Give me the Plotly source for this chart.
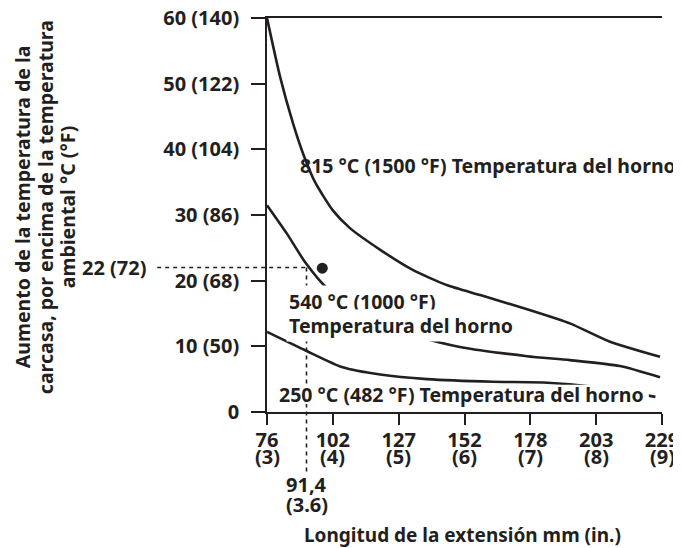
import plotly.graph_objects as go

# ---- data (x in inches, y in °C rise) ----
x_ticks_in = [3, 4, 5, 6, 7, 8, 9]
x_ticks_mm = ["76", "102", "127", "152", "178", "203", "229"]
x_ticks_inch_text = ["(3)", "(4)", "(5)", "(6)", "(7)", "(8)", "(9)"]
y_ticks = [0, 10, 20, 30, 40, 50, 60]
y_tick_text = ["0", "10 (50)", "20 (68)", "30 (86)", "40 (104)", "50 (122)", "60 (140)"]

x_815 = [3.0, 3.2, 3.4, 3.55, 3.73, 4.0, 4.26, 4.72, 5.22, 5.74, 6.24, 7.0, 7.6, 8.21, 8.97]
y_815 = [60.0, 51.0, 43.8, 39.3, 35.0, 30.7, 28.0, 24.7, 21.6, 19.3, 17.8, 15.5, 13.5, 10.7, 8.4]

x_540 = [3.0, 3.3, 3.58, 3.91, 4.5, 5.0, 5.37, 5.93, 6.95, 7.6, 8.36, 8.97]
y_540 = [31.5, 27.2, 22.8, 18.9, 15.3, 12.8, 11.3, 9.9, 8.5, 7.9, 7.0, 5.3]

x_250 = [3.0, 3.58, 4.15, 4.72, 5.43, 6.43, 7.2, 8.0, 8.5, 8.9]
y_250 = [12.2, 9.4, 6.8, 5.7, 5.0, 4.6, 4.5, 3.8, 3.0, 2.3]

mark_x = 3.6      # 91,4 mm
mark_y = 22       # 22 °C
dot_x = [3.84]
dot_y = [21.9]

X_MIN, X_MAX = 3, 9
Y_MIN, Y_MAX = 0, 60

INK = "#231f20"
FONT = "Noto Sans"

fig = go.Figure()
for xs, ys in [(x_815, y_815), (x_540, y_540), (x_250, y_250)]:
    fig.add_trace(go.Scatter(x=xs, y=ys, mode="lines",
                             line=dict(color=INK, width=2.6, shape="spline", smoothing=0.6),
                             hoverinfo="skip", showlegend=False))
fig.add_trace(go.Scatter(x=dot_x, y=dot_y, mode="markers",
                         marker=dict(color=INK, size=11), showlegend=False, hoverinfo="skip"))

# dashed guide lines
fig.add_shape(type="line", xref="paper", yref="y",
              x0=-0.278, x1=(mark_x - X_MIN) / (X_MAX - X_MIN), y0=mark_y, y1=mark_y,
              line=dict(color=INK, width=1.6, dash="4px,4px"))
fig.add_shape(type="line", xref="x", yref="paper",
              x0=mark_x, x1=mark_x, y0=(mark_y - Y_MIN) / (Y_MAX - Y_MIN), y1=-0.152,
              line=dict(color=INK, width=1.6, dash="4px,4px"))
# white knock-out behind the 250 °C label (the curve passes beneath the text)
fig.add_shape(type="rect", xref="x", yref="y", x0=3.12, x1=8.8, y0=1.2, y1=4.15,
              fillcolor="white", line=dict(width=0), layer="above")


def f(size):
    return dict(family=FONT, size=size, color=INK, weight="bold")


def note(text, x, y, xref="x", yref="y", xanchor="left", size=19.5, **kw):
    fig.add_annotation(text=text, x=x, y=y, xref=xref, yref=yref, xanchor=xanchor,
                       yanchor="middle", showarrow=False, font=f(size), **kw)


note("815 °C (1500 °F) Temperatura del horno", 3.47, 37.6)
note("540 °C (1000 °F)", 3.29, 16.9, bgcolor="white", borderpad=2)
note("Temperatura del horno", 3.29, 13.1, bgcolor="white", borderpad=2)
note("250 °C (482 °F) Temperatura del horno", 3.15, 2.7)
note("22 (72)", -0.3, mark_y, xref="paper", xanchor="right", size=20)
note("91,4", mark_x, -0.185, yref="paper", xanchor="center", size=20)
note("(3.6)", mark_x, -0.236, yref="paper", xanchor="center", size=20)
for xv, t in zip(x_ticks_in, x_ticks_inch_text):
    note(t, xv, -0.112, yref="paper", xanchor="center", size=20)
note("Longitud de la extensión mm (in.)", 0.494, -0.312, xref="paper", yref="paper",
     xanchor="center", size=19)
for t, xp in [("Aumento de la temperatura de la", -0.620),
              ("carcasa, por encima de la temperatura", -0.562),
              ("ambiental °C (°F)", -0.506)]:
    note(t, xp, 0.52, xref="paper", yref="paper", xanchor="center", size=19.5, textangle=-90)

fig.update_xaxes(range=[X_MIN, X_MAX], tickvals=x_ticks_in, ticktext=x_ticks_mm,
                 showline=True, mirror=True, linecolor=INK, linewidth=1.6,
                 ticks="outside", ticklen=11, tickwidth=1.6, tickcolor=INK,
                 showgrid=False, zeroline=False, automargin=False,
                 ticklabelstandoff=-2, ticklabeloverflow="allow", tickfont=f(20))
fig.update_yaxes(range=[Y_MIN, Y_MAX], tickvals=y_ticks, ticktext=y_tick_text,
                 showline=True, linecolor=INK, linewidth=1.6,
                 ticks="outside", ticklen=14, tickwidth=1.6, tickcolor=INK,
                 showgrid=False, zeroline=False, automargin=False,
                 ticklabelstandoff=8, ticklabeloverflow="allow", tickfont=f(20))

fig.update_layout(width=681, height=548, margin=dict(l=259, r=27, t=10, b=144),
                  plot_bgcolor="white", paper_bgcolor="white", showlegend=False)

fig.write_html("out.html")
